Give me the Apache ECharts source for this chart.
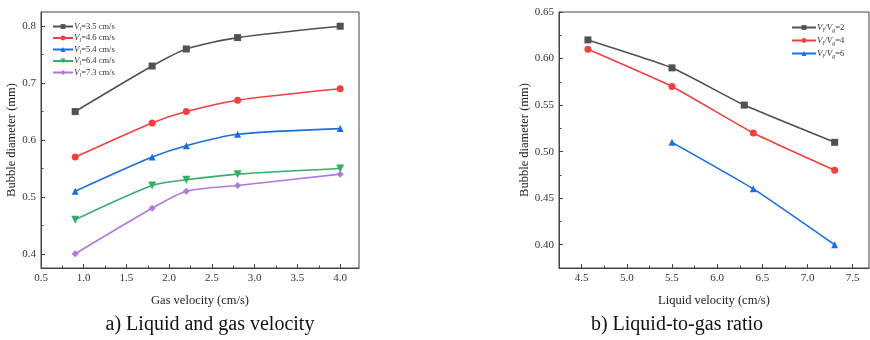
<!DOCTYPE html>
<html>
<head>
<meta charset="utf-8">
<script src="https://cdn.jsdelivr.net/npm/echarts@6/dist/echarts.min.js"></script>
<style>
  html, body { margin: 0; padding: 0; background: #fff; }
  #chart { width: 870px; height: 340px; }
</style>
</head>
<body>
<div id="chart"></div>
<script>
// (a) bubble diameter vs gas velocity, one line per liquid velocity
var gasVel = [0.9, 1.8, 2.2, 2.8, 4.0];
var liquidVelA = [3.5, 4.6, 5.4, 6.4, 7.3];
var diamA = [
    [0.65, 0.73, 0.76, 0.78, 0.80],
    [0.57, 0.63, 0.65, 0.67, 0.69],
    [0.51, 0.57, 0.59, 0.61, 0.62],
    [0.46, 0.52, 0.53, 0.54, 0.55],
    [0.40, 0.48, 0.51, 0.52, 0.54]
];

// (b) bubble diameter vs liquid velocity, one line per liquid/gas ratio
var ratioB = [2, 4, 6];
var liquidVelB = [
    [4.57, 5.5, 6.3, 7.3],
    [4.57, 5.5, 6.4, 7.3],
    [5.5, 6.4, 7.3]
];
var diamB = [
    [0.62, 0.59, 0.55, 0.51],
    [0.61, 0.57, 0.52, 0.48],
    [0.51, 0.46, 0.40]
];

// tick labels
var xTicksA = [0.5, 1.0, 1.5, 2.0, 2.5, 3.0, 3.5, 4.0];
var xMinorA = [0.75, 1.25, 1.75, 2.25, 2.75, 3.25, 3.75];
var yTicksA = [0.4, 0.5, 0.6, 0.7, 0.8];
var yMinorA = [0.45, 0.55, 0.65, 0.75];
var xTicksB = [4.5, 5.0, 5.5, 6.0, 6.5, 7.0, 7.5];
var xMinorB = [4.75, 5.25, 5.75, 6.25, 6.75, 7.25];
var yTicksB = [0.40, 0.45, 0.50, 0.55, 0.60, 0.65];
var yMinorB = [0.425, 0.475, 0.525, 0.575, 0.625];

var colorList = ['#515151', '#F14040', '#1A6FDF', '#37AD6B', '#B177DE'];
var symbolList = ['rect', 'circle', 'triangle', 'path://M0,0 L10,0 L5,9 Z', 'diamond'];

var serif = '"Liberation Serif", "DejaVu Serif", serif';
var axisColor = '#444';

function pairs(xs, ys) {
    var out = [];
    for (var i = 0; i < xs.length; i++) out.push([xs[i], ys[i]]);
    return out;
}

function majorAxis(grid, min, max, ticks, digits, pos, name, nameGap) {
    return {
        type: 'value',
        gridIndex: grid,
        position: pos,
        min: min,
        max: max,
        name: name,
        nameLocation: 'middle',
        nameGap: nameGap,
        nameTextStyle: { fontFamily: serif, fontSize: 12.5, color: '#222' },
        axisLine: { show: true, lineStyle: { color: axisColor, width: 1 } },
        axisTick: { show: true, inside: true, length: 4, customValues: ticks, lineStyle: { color: axisColor } },
        axisLabel: {
            customValues: ticks,
            margin: 5,
            fontFamily: serif,
            fontSize: 11,
            color: '#333',
            formatter: function (v) { return v.toFixed(digits); }
        },
        splitLine: { show: false }
    };
}

function minorAxis(grid, min, max, ticks, pos) {
    return {
        type: 'value',
        gridIndex: grid,
        position: pos,
        min: min,
        max: max,
        axisLine: { show: false },
        axisTick: { show: true, inside: true, length: 2.5, customValues: ticks, lineStyle: { color: axisColor } },
        axisLabel: { show: false },
        splitLine: { show: false }
    };
}

var legendRich = {
    i: { fontFamily: serif, fontStyle: 'italic', fontSize: 9, color: '#333', lineHeight: 11 },
    s: { fontFamily: serif, fontStyle: 'italic', fontSize: 6, color: '#333', lineHeight: 11, verticalAlign: 'bottom', padding: [4, 0, 0, 0] },
    t: { fontFamily: serif, fontSize: 8.5, color: '#333', lineHeight: 11 }
};

var series = [];
for (var a = 0; a < liquidVelA.length; a++) {
    series.push({
        name: 'A' + a,
        type: 'line',
        xAxisIndex: 0,
        yAxisIndex: 0,
        smooth: 0.25,
        symbol: symbolList[a],
        symbolSize: a == 3 ? 8 : 7,
        lineStyle: { width: 1.6, color: colorList[a] },
        itemStyle: { color: colorList[a] },
        data: pairs(gasVel, diamA[a])
    });
}
for (var b = 0; b < ratioB.length; b++) {
    series.push({
        name: 'B' + b,
        type: 'line',
        xAxisIndex: 2,
        yAxisIndex: 2,
        smooth: 0.15,
        symbol: symbolList[b],
        symbolSize: 7,
        lineStyle: { width: 1.6, color: colorList[b] },
        itemStyle: { color: colorList[b] },
        data: pairs(liquidVelB[b], diamB[b])
    });
}

var chart = echarts.init(document.getElementById('chart'));
chart.setOption({
    animation: false,
    backgroundColor: '#fff',
    title: [
        { text: 'a) Liquid and gas velocity', left: 205, top: 310, textAlign: 'center',
          textStyle: { fontFamily: serif, fontSize: 20, fontWeight: 'normal', color: '#111' } },
        { text: 'b) Liquid-to-gas ratio', left: 672, top: 310, textAlign: 'center',
          textStyle: { fontFamily: serif, fontSize: 20, fontWeight: 'normal', color: '#111' } }
    ],
    grid: [
        { left: 41, top: 12, width: 318, height: 256, show: true, borderColor: axisColor, borderWidth: 1 },
        { left: 559, top: 12, width: 310, height: 256, show: true, borderColor: axisColor, borderWidth: 1 }
    ],
    legend: [
        {
            data: ['A0', 'A1', 'A2', 'A3', 'A4'],
            orient: 'vertical',
            left: 47,
            top: 17,
            itemWidth: 20,
            itemHeight: 6,
            itemGap: 1.5,
            formatter: function (name) {
                var v = liquidVelA[+name.slice(1)];
                return '{i|V}{s|l}{t|=' + v.toFixed(1) + ' cm/s}';
            },
            textStyle: { rich: legendRich, padding: [0, 0, 0, -4] }
        },
        {
            data: ['B0', 'B1', 'B2'],
            orient: 'vertical',
            left: 786,
            top: 18,
            itemWidth: 24,
            itemHeight: 6,
            itemGap: 3,
            formatter: function (name) {
                var r = ratioB[+name.slice(1)];
                return '{i|V}{s|l}{i|/V}{s|g}{t|=' + r + '}';
            },
            textStyle: { rich: legendRich, padding: [0, 0, 0, -4] }
        }
    ],
    xAxis: [
        majorAxis(0, 0.5, 4.22, xTicksA, 1, 'bottom', 'Gas velocity (cm/s)', 26),
        minorAxis(0, 0.5, 4.22, xMinorA, 'bottom'),
        majorAxis(1, 4.25, 7.68, xTicksB, 1, 'bottom', 'Liquid velocity (cm/s)', 26),
        minorAxis(1, 4.25, 7.68, xMinorB, 'bottom')
    ],
    yAxis: [
        majorAxis(0, 0.375, 0.825, yTicksA, 1, 'left', 'Bubble diameter (mm)', 21),
        minorAxis(0, 0.375, 0.825, yMinorA, 'left'),
        majorAxis(1, 0.375, 0.65, yTicksB, 2, 'left', 'Bubble diameter (mm)', 27),
        minorAxis(1, 0.375, 0.65, yMinorB, 'left')
    ],
    series: series
});
</script>
</body>
</html>
